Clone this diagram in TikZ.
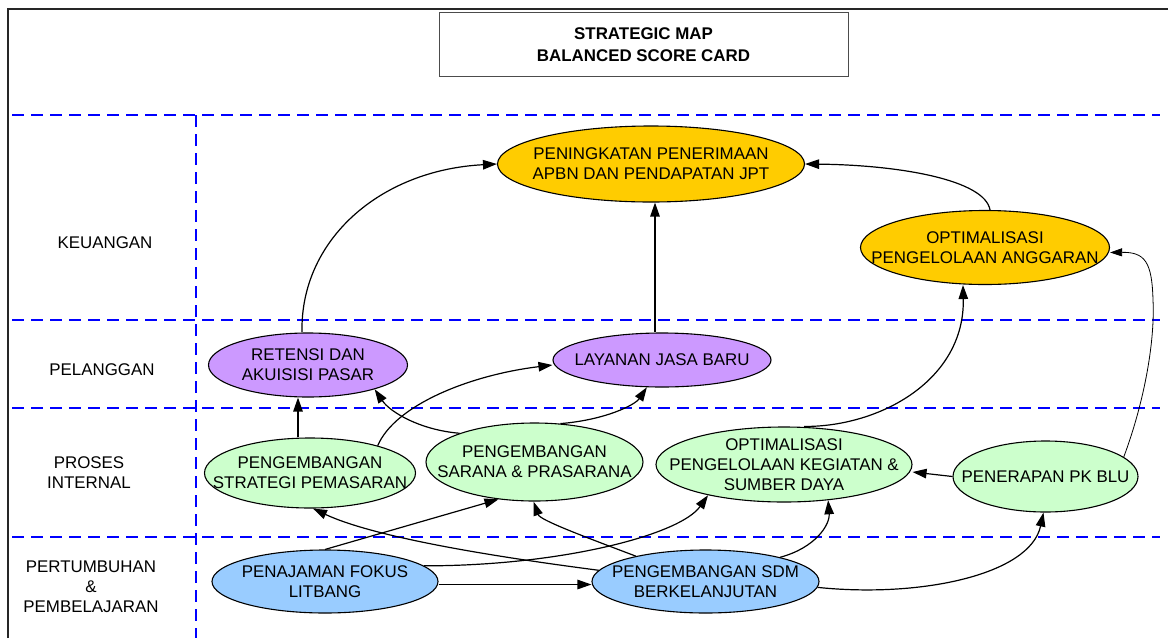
\documentclass[tikz,border=0pt]{standalone}
\usepackage{fontspec}
\setmainfont{Liberation Sans}
\usetikzlibrary{shapes.geometric,arrows.meta}
\definecolor{cyel}{HTML}{FFCC00}
\definecolor{cpur}{HTML}{CC99FF}
\definecolor{cgrn}{HTML}{CCFFCC}
\definecolor{cblu}{HTML}{99CCFF}
\begin{document}
\begin{tikzpicture}[x=1pt,y=-1pt,
  txt/.style={font=\fontsize{16.9}{20}\selectfont, align=center, inner sep=0pt},
  obj/.style={ellipse, draw=black, line width=1.1pt, inner sep=0pt},
  lbl/.style={txt},
  divline/.style={draw=blue, line width=1.5pt, dash pattern=on 12pt off 7pt},
  link/.style={draw=black, line width=1.2pt, -{Triangle[length=14pt,width=9.5pt]}},
  thinlink/.style={draw=black, line width=0.8pt, -{Triangle[length=12pt,width=8pt]}},
]
\useasboundingbox (0,0) rectangle (1168,638);
\fill[white] (0,0) rectangle (1168,638);
\draw[line width=1.6pt, black!85] (8,638) -- (8,9) -- (1168,9);
% dividers
\draw[divline] (12,115) -- (1160,115);
\draw[divline] (12,320) -- (1160,320);
\draw[divline] (12,408) -- (1160,408);
\draw[divline] (12,537) -- (1160,537);
\draw[divline] (196,115) -- (196,638);
% title
\node[draw=black!70, line width=0.9pt, minimum width=409pt, minimum height=64pt, inner sep=0pt,
  font=\bfseries\fontsize{16.9}{22}\selectfont, align=center] (title) at (643.5,44.5) {STRATEGIC MAP\\BALANCED SCORE CARD};
% row labels
\node[txt] (lk) at (105,243) {KEUANGAN};
\node[txt] (lp) at (102,370) {PELANGGAN};
\node[txt] (li) at (89,472.5) {PROSES\\INTERNAL};
\node[txt] (lg) at (91,587) {PERTUMBUHAN\\\&\\PEMBELAJARAN};
% objectives
\node[obj, fill=cyel, minimum width=307pt, minimum height=76pt,
  label={[lbl]center:{PENINGKATAN PENERIMAAN\\APBN DAN PENDAPATAN JPT}}] (pen) at (651,164) {};
\node[obj, fill=cyel, minimum width=249pt, minimum height=74pt,
  label={[lbl]center:{OPTIMALISASI\\PENGELOLAAN ANGGARAN}}] (ang) at (985,247.5) {};
\node[obj, fill=cpur, minimum width=199pt, minimum height=64pt,
  label={[lbl]center:{RETENSI DAN\\AKUISISI PASAR}}] (ret) at (308,365) {};
\node[obj, fill=cpur, minimum width=218pt, minimum height=54pt,
  label={[lbl]center:{LAYANAN JASA BARU}}] (lay) at (662,360) {};
\node[obj, fill=cgrn, minimum width=211pt, minimum height=70pt,
  label={[lbl]center:{PENGEMBANGAN\\STRATEGI PEMASARAN}}] (str) at (310,473) {};
\node[obj, fill=cgrn, minimum width=217pt, minimum height=78pt,
  label={[lbl]center:{PENGEMBANGAN\\SARANA \& PRASARANA}}] (sar) at (534.5,462) {};
\node[obj, fill=cgrn, minimum width=256pt, minimum height=75pt,
  label={[lbl]center:{OPTIMALISASI\\PENGELOLAAN KEGIATAN \&\\SUMBER DAYA}}] (keg) at (784,464.5) {};
\node[obj, fill=cgrn, minimum width=185pt, minimum height=71pt,
  label={[lbl]center:{PENERAPAN PK BLU}}] (blu) at (1045.5,476.5) {};
\node[obj, fill=cblu, minimum width=226pt, minimum height=63pt,
  label={[lbl]center:{PENAJAMAN FOKUS\\LITBANG}}] (foc) at (325,581.5) {};
\node[obj, fill=cblu, minimum width=227pt, minimum height=63pt,
  label={[lbl]center:{PENGEMBANGAN SDM\\BERKELANJUTAN}}] (sdm) at (705.5,581.5) {};
% links
\draw[link] ([xshift=-6pt]ret.north) .. controls (300,240) and (380,170) .. (pen.west);
\draw[link] ([xshift=-7pt]lay.north) -- ([xshift=4pt]pen.south);
\draw[link] ([xshift=5pt]ang.north) .. controls (985,180) and (900,165) .. (pen.east);
\draw[link] ([xshift=-12pt]str.north) -- ([xshift=-10pt]ret.south);
\draw[link] (str.22) .. controls (395,405) and (470,375) .. ([yshift=-5pt]lay.west);
\draw[link] (sar.159) .. controls (420,430) and (390,412) .. (ret.-20);
\draw[link] (sar.56) .. controls (605,420) and (635,405) .. (lay.-119);
\draw[link] ([xshift=20pt]keg.north) .. controls (880,427) and (965,380) .. ([xshift=-22pt]ang.south);
\draw[thinlink] (blu.14) .. controls (1145,400) and (1155,340) .. (1153,300)
  .. controls (1152,262) and (1145,252) .. ([yshift=-5pt]ang.east);
\draw[link] (blu.west) -- ([yshift=-7.5pt]keg.east);
\draw[link] (foc.north) -- (sar.-134);
\draw[link] (foc.9) .. controls (560,566) and (680,535) .. (keg.-158);
\draw[link] ([yshift=-3pt]foc.east) -- ([yshift=-3pt]sdm.west);
\draw[link] (sdm.174) .. controls (520,560) and (380,540) .. ([xshift=3pt]str.south);
\draw[link] (sdm.160) .. controls (580,535) and (540,520) .. ([xshift=-1pt]sar.south);
\draw[link] (sdm.18) .. controls (815,548) and (830,525) .. (keg.-39);
\draw[link] (sdm.-3) .. controls (920,598) and (1030,575) .. ([xshift=-2pt]blu.south);
\end{tikzpicture}
\end{document}
